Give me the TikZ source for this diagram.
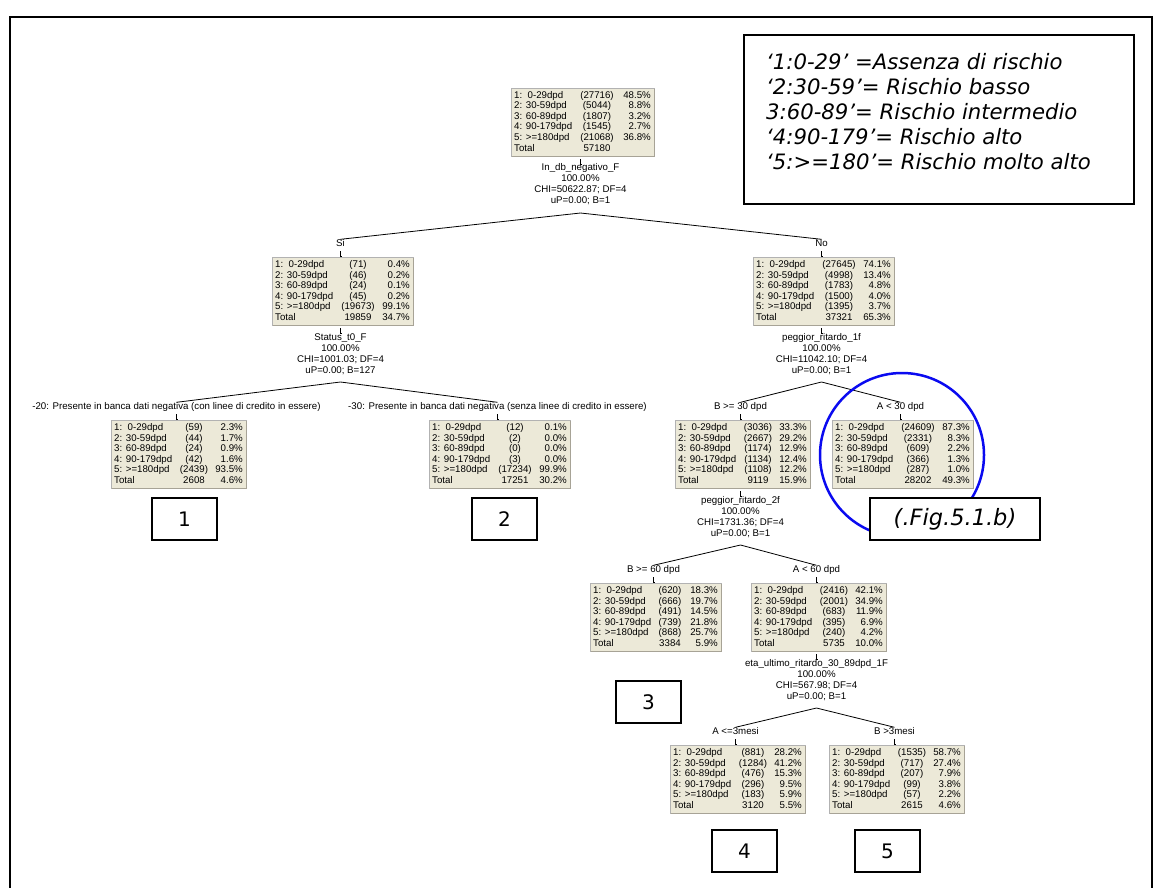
\documentclass[tikz,border=0pt]{standalone}
\usepackage{fontspec}
\setmainfont{Liberation Sans}
\newfontfamily\legendfont{DejaVu Sans}
\usetikzlibrary{calc}

\definecolor{cellfill}{HTML}{ECE9D8}
\definecolor{cellrim}{HTML}{A7A396}
\definecolor{ringblue}{HTML}{0A0AF0}

\tikzset{
  dbox/.style={fill=cellfill, draw=black!30, line width=0.6pt, inner sep=0pt},
  rimline/.style={draw=cellrim, line width=1.6pt},
  cell/.style={inner sep=0pt, font=\fontsize{9.7}{10.5}\selectfont, text height=7pt, text depth=2pt},
  lbl/.style={inner sep=0pt, font=\fontsize{9.7}{10.5}\selectfont, text height=7pt, text depth=2pt},
  branch/.style={draw=black, line width=0.8pt},
  tickmark/.style={draw=black, line width=0.7pt},
  numbox/.style={draw=black, line width=1.8pt, fill=white, minimum width=65pt,
    minimum height=42pt, inner sep=0pt, font=\legendfont\fontsize{20}{24}\selectfont},
  legline/.style={inner sep=0pt, anchor=west, font=\legendfont\itshape\fontsize{21.2}{25}\selectfont},
}

% #1 name, #2 left, #3 top, #4 width, #5 centre of the count column, #6 rows
\newcommand\databox[6]{%
  \node[dbox, minimum width=#4pt, minimum height=68pt, anchor=north west] (#1) at (#2,#3) {};
  \draw[rimline] ($(#1.north east)+(0,1)$) -- (#1.south east) -- ($(#1.south west)+(1,0)$);
  \foreach \lab/\cnt/\pct [count=\i] in {#6} {
    \pgfmathsetmacro\ry{#3+8+10.5*(\i-1)}
    \node[cell, anchor=west] (#1-a\i) at (#2+3,\ry) {\lab};
    \node[cell] (#1-b\i) at (#2+#5,\ry) {\cnt};
    \node[cell, anchor=east] (#1-c\i) at (#2+#4-3,\ry) {\pct};
  }
}

\begin{document}
\begin{tikzpicture}[x=1pt, y=-1pt]
\useasboundingbox (0,0) rectangle (1156,888);
\fill[white] (0,0) rectangle (1156,888);

% outer frame
\draw[line width=2pt] (10,888) -- (10,17) -- (1152,17) -- (1152,888);

% legend
\node[draw, line width=2pt, minimum width=390pt, minimum height=169pt, anchor=north west, inner sep=0pt] (legend) at (743,34) {};
\node[legline] (leg1) at (766,62) {‘1:0-29’ =Assenza di rischio};
\node[legline] (leg2) at (766,87) {‘2:30-59’= Rischio basso};
\node[legline] (leg3) at (766,112) {3:60-89’= Rischio intermedio};
\node[legline] (leg4) at (766,137) {‘4:90-179’= Rischio alto};
\node[legline] (leg5) at (766,162) {‘5:>=180’= Rischio molto alto};

% ---------- tree boxes ----------
\databox{root}{511}{88}{143}{86}{1:\ \ 0-29dpd/(27716)/48.5\%, 2: 30-59dpd/(5044)/8.8\%, 3: 60-89dpd/(1807)/3.2\%, 4: 90-179dpd/(1545)/2.7\%, 5: >=180dpd/(21068)/36.8\%, Total/57180/{}}
\databox{si}{272}{257}{141}{86}{1:\ \ 0-29dpd/(71)/0.4\%, 2: 30-59dpd/(46)/0.2\%, 3: 60-89dpd/(24)/0.1\%, 4: 90-179dpd/(45)/0.2\%, 5: >=180dpd/(19673)/99.1\%, Total/19859/34.7\%}
\databox{no}{753}{257}{141}{86}{1:\ \ 0-29dpd/(27645)/74.1\%, 2: 30-59dpd/(4998)/13.4\%, 3: 60-89dpd/(1783)/4.8\%, 4: 90-179dpd/(1500)/4.0\%, 5: >=180dpd/(1395)/3.7\%, Total/37321/65.3\%}
\databox{lone}{111}{420}{135}{83}{1:\ \ 0-29dpd/(59)/2.3\%, 2: 30-59dpd/(44)/1.7\%, 3: 60-89dpd/(24)/0.9\%, 4: 90-179dpd/(42)/1.6\%, 5: >=180dpd/(2439)/93.5\%, Total/2608/4.6\%}
\databox{ltwo}{429}{420}{141}{86}{1:\ \ 0-29dpd/(12)/0.1\%, 2: 30-59dpd/(2)/0.0\%, 3: 60-89dpd/(0)/0.0\%, 4: 90-179dpd/(3)/0.0\%, 5: >=180dpd/(17234)/99.9\%, Total/17251/30.2\%}
\databox{bthirty}{675}{420}{135}{83}{1:\ \ 0-29dpd/(3036)/33.3\%, 2: 30-59dpd/(2667)/29.2\%, 3: 60-89dpd/(1174)/12.9\%, 4: 90-179dpd/(1134)/12.4\%, 5: >=180dpd/(1108)/12.2\%, Total/9119/15.9\%}
\databox{athirty}{832}{420}{141}{86}{1:\ \ 0-29dpd/(24609)/87.3\%, 2: 30-59dpd/(2331)/8.3\%, 3: 60-89dpd/(609)/2.2\%, 4: 90-179dpd/(366)/1.3\%, 5: >=180dpd/(287)/1.0\%, Total/28202/49.3\%}
\databox{bsixty}{590}{583}{131}{80}{1:\ \ 0-29dpd/(620)/18.3\%, 2: 30-59dpd/(666)/19.7\%, 3: 60-89dpd/(491)/14.5\%, 4: 90-179dpd/(739)/21.8\%, 5: >=180dpd/(868)/25.7\%, Total/3384/5.9\%}
\databox{asixty}{751}{583}{135}{83}{1:\ \ 0-29dpd/(2416)/42.1\%, 2: 30-59dpd/(2001)/34.9\%, 3: 60-89dpd/(683)/11.9\%, 4: 90-179dpd/(395)/6.9\%, 5: >=180dpd/(240)/4.2\%, Total/5735/10.0\%}
\databox{athree}{670}{745}{135}{83}{1:\ \ 0-29dpd/(881)/28.2\%, 2: 30-59dpd/(1284)/41.2\%, 3: 60-89dpd/(476)/15.3\%, 4: 90-179dpd/(296)/9.5\%, 5: >=180dpd/(183)/5.9\%, Total/3120/5.5\%}
\databox{bthree}{829}{745}{135}{83}{1:\ \ 0-29dpd/(1535)/58.7\%, 2: 30-59dpd/(717)/27.4\%, 3: 60-89dpd/(207)/7.9\%, 4: 90-179dpd/(99)/3.8\%, 5: >=180dpd/(57)/2.2\%, Total/2615/4.6\%}

% ---------- split descriptions ----------
\node[lbl] (root-v) at (580.5,168) {In\_db\_negativo\_F};
\node[lbl] (root-p) at (580.5,179) {100.00\%};
\node[lbl] (root-c) at (580.5,190) {CHI=50622.87; DF=4};
\node[lbl] (root-u) at (580.5,201) {uP=0.00; B=1};
\coordinate (root-apex) at (580.5,213);

\node[lbl] (si-v) at (340.5,338) {Status\_t0\_F};
\node[lbl] (si-p) at (340.5,349) {100.00\%};
\node[lbl] (si-c) at (340.5,360) {CHI=1001.03; DF=4};
\node[lbl] (si-u) at (340.5,371) {uP=0.00; B=127};
\coordinate (si-apex) at (340.5,382);

\node[lbl] (no-v) at (821.5,338) {peggior\_ritardo\_1f};
\node[lbl] (no-p) at (821.5,349) {100.00\%};
\node[lbl] (no-c) at (821.5,360) {CHI=11042.10; DF=4};
\node[lbl] (no-u) at (821.5,371) {uP=0.00; B=1};
\coordinate (no-apex) at (821.5,382);

\node[lbl] (bthirty-v) at (740.5,501) {peggior\_ritardo\_2f};
\node[lbl] (bthirty-p) at (740.5,512) {100.00\%};
\node[lbl] (bthirty-c) at (740.5,523) {CHI=1731.36; DF=4};
\node[lbl] (bthirty-u) at (740.5,534) {uP=0.00; B=1};
\coordinate (bthirty-apex) at (740.5,545);

\node[lbl] (asixty-v) at (816.5,664) {eta\_ultimo\_ritardo\_30\_89dpd\_1F};
\node[lbl] (asixty-p) at (816.5,675) {100.00\%};
\node[lbl] (asixty-c) at (816.5,686) {CHI=567.98; DF=4};
\node[lbl] (asixty-u) at (816.5,697) {uP=0.00; B=1};
\coordinate (asixty-apex) at (816.5,708);

% ---------- category labels ----------
\node[lbl] (si-lab) at (340.5,244) {Si};
\node[lbl] (no-lab) at (821.5,244) {No};
\node[lbl] (lone-lab) at (176.5,407) {-20: Presente in banca dati negativa (con linee di credito in essere)};
\node[lbl] (ltwo-lab) at (497.5,407) {-30: Presente in banca dati negativa (senza linee di credito in essere)};
\node[lbl] (bthirty-lab) at (740.5,407) {B >= 30 dpd};
\node[lbl] (athirty-lab) at (900.5,407) {A < 30 dpd};
\node[lbl] (bsixty-lab) at (653.5,570) {B >= 60 dpd};
\node[lbl] (asixty-lab) at (816.5,570) {A < 60 dpd};
\node[lbl] (athree-lab) at (735.5,732) {A <=3mesi};
\node[lbl] (bthree-lab) at (894.5,732) {B >3mesi};

% ---------- branches ----------
\draw[branch] (root-apex) -- (si-lab.north);
\draw[branch] (root-apex) -- (no-lab.north);
\draw[branch] (si-apex) -- (lone-lab.north);
\draw[branch] (si-apex) -- (ltwo-lab.north);
\draw[branch] (no-apex) -- (bthirty-lab.north);
\draw[branch] (no-apex) -- (athirty-lab.north);
\draw[branch] (bthirty-apex) -- (bsixty-lab.north);
\draw[branch] (bthirty-apex) -- (asixty-lab.north);
\draw[branch] (asixty-apex) -- (athree-lab.north);
\draw[branch] (asixty-apex) -- (bthree-lab.north);

% ---------- small ticks ----------
\foreach \p in {root, si, no, bthirty, asixty}
  \draw[tickmark] ($(\p.south)+(-2,2.5)$) -- ++(0,5) -- ++(1.5,0);
\foreach \c in {si, no, lone, ltwo, bthirty, athirty, bsixty, asixty, athree, bthree}
  \draw[tickmark] ($(\c-lab.south)+(0,2.5)$) -- ++(0,5) -- ++(1.5,0);

% ---------- highlight ring ----------
\draw[ringblue, line width=2.5pt] (902,455) circle[radius=82pt];

% ---------- numbered boxes ----------
\node[numbox] (n1) at (184.5,519) {1};
\node[numbox] (n2) at (504.5,519) {2};
\node[numbox] (n3) at (648.5,702) {3};
\node[numbox] (n4) at (744.5,851) {4};
\node[numbox] (n5) at (887.5,851) {5};
\node[numbox, minimum width=170pt, font=\legendfont\itshape\fontsize{22.5}{27}\selectfont] (fig) at (955,519) {(.Fig.5.1.b)};

\end{tikzpicture}
\end{document}
